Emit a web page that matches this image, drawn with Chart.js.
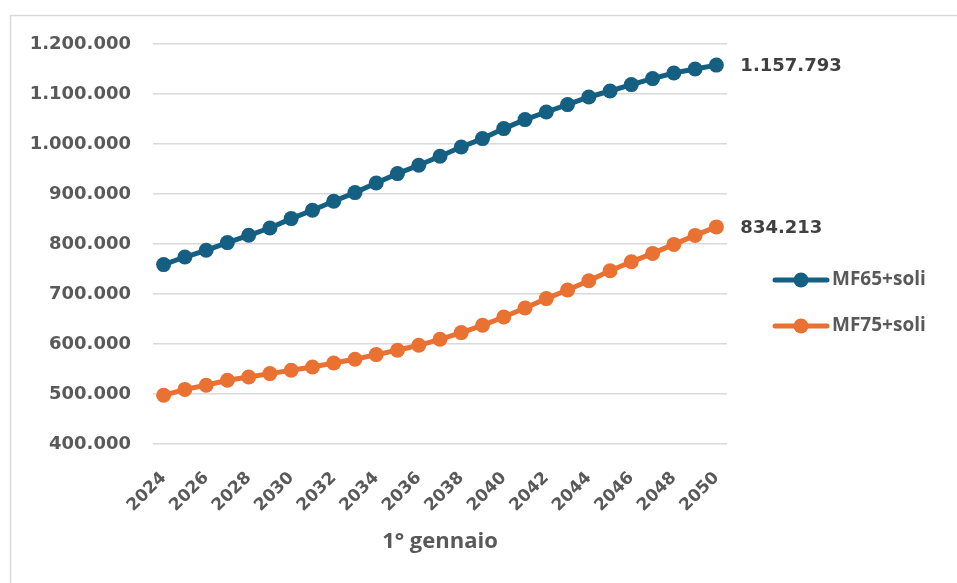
<!DOCTYPE html>
<html>
<head>
<meta charset="utf-8">
<script src="https://cdn.jsdelivr.net/npm/chart.js@4/dist/chart.umd.min.js"></script>
<style>
    body { margin: 0; background: #fff; }
    canvas { display: block; }
</style>
</head>
<body>
<canvas id="chart" width="957" height="583"></canvas>
<script>
const years = ['2024', '2025', '2026', '2027', '2028', '2029', '2030', '2031', '2032', '2033', '2034', '2035', '2036', '2037', '2038', '2039', '2040', '2041', '2042', '2043', '2044', '2045', '2046', '2047', '2048', '2049', '2050'];
const mf65 = [758800, 774000, 787400, 802800, 817400, 832000, 850800, 867400, 885400, 902800, 922000, 940800, 957400, 975400, 994000, 1010800, 1030800, 1048800, 1064000, 1078800, 1094000, 1106000, 1118800, 1130800, 1142000, 1150000, 1157793];
const mf75 = [497400, 509200, 517400, 527400, 534000, 540800, 547400, 554000, 562000, 569400, 578800, 587400, 597400, 609400, 622800, 637400, 654000, 672000, 690800, 708000, 726400, 746400, 764400, 781200, 799200, 817200, 834213];
const seriesNames = ['MF65+soli', 'MF75+soli'];
const seriesColors = ['#156082', '#E97132'];
const xTitle = '1° gennaio';

// digits: wide tabular font, words: Open Sans
const numFont = '"DejaVu Sans", sans-serif';
const textFont = '"Open Sans", sans-serif';

function fmt(v) {
    return String(Math.round(v)).replace(/\B(?=(\d{3})+(?!\d))/g, '.');
}

// frame, last-point labels and legend drawn by hand
const extras = {
    id: 'extras',
    beforeDraw(chart) {
        const ctx = chart.ctx;
        ctx.save();
        ctx.strokeStyle = '#d9d9d9';
        ctx.lineWidth = 1.5;
        ctx.strokeRect(10.5, 15.5, 1200, 1200);
        ctx.restore();
    },
    afterDatasetsDraw(chart) {
        const ctx = chart.ctx;
        ctx.save();
        ctx.font = `bold 18px ${numFont}`;
        ctx.fillStyle = '#404040';
        ctx.textBaseline = 'middle';
        ctx.textAlign = 'left';
        chart.data.datasets.forEach((ds, i) => {
            const meta = chart.getDatasetMeta(i);
            const last = meta.data[meta.data.length - 1];
            ctx.fillText(fmt(ds.data[ds.data.length - 1]), last.x + 24, last.y + 1);
        });

        const legendY = [280, 326];
        ctx.font = `bold 19px ${textFont}`;
        chart.data.datasets.forEach((ds, i) => {
            const y = legendY[i];
            ctx.strokeStyle = ds.borderColor;
            ctx.lineWidth = 5;
            ctx.lineCap = 'round';
            ctx.beginPath();
            ctx.moveTo(775, y);
            ctx.lineTo(827, y);
            ctx.stroke();
            ctx.fillStyle = ds.borderColor;
            ctx.beginPath();
            ctx.arc(801, y, 7.5, 0, Math.PI * 2);
            ctx.fill();
            ctx.fillStyle = '#595959';
            ctx.fillText(ds.label, 832, y);
        });
        ctx.restore();
    }
};

new Chart(document.getElementById('chart'), {
    type: 'line',
    data: {
        labels: years,
        datasets: [
            {
                label: seriesNames[0],
                data: mf65,
                borderColor: seriesColors[0],
                backgroundColor: seriesColors[0],
                borderWidth: 5,
                pointRadius: 7.5,
                pointHoverRadius: 7.5,
                pointBorderWidth: 0,
                tension: 0
            },
            {
                label: seriesNames[1],
                data: mf75,
                borderColor: seriesColors[1],
                backgroundColor: seriesColors[1],
                borderWidth: 5,
                pointRadius: 7.5,
                pointHoverRadius: 7.5,
                pointBorderWidth: 0,
                tension: 0
            }
        ]
    },
    options: {
        responsive: false,
        animation: false,
        devicePixelRatio: 1,
        layout: { padding: { left: 10, top: 44, right: 230, bottom: 10 } },
        plugins: {
            legend: { display: false },
            tooltip: { enabled: false }
        },
        scales: {
            x: {
                offset: true,
                grid: { display: false, drawTicks: false },
                border: { display: false },
                afterFit: (scale) => { scale.height = 129; },
                ticks: {
                    autoSkip: false,
                    maxRotation: 45,
                    minRotation: 45,
                    padding: 24,
                    color: '#595959',
                    font: { family: numFont, size: 17, weight: 'bold' },
                    callback: (value, index) => index % 2 === 0 ? years[index] : ''
                },
                title: {
                    display: true,
                    text: xTitle,
                    color: '#595959',
                    font: { family: textFont, size: 22, weight: 'bold' },
                    padding: { top: 0, bottom: 18 }
                }
            },
            y: {
                min: 400000,
                max: 1200000,
                afterFit: (scale) => { scale.width = 143; },
                grid: { color: '#d9d9d9', lineWidth: 1.5, drawTicks: false },
                border: { display: false },
                ticks: {
                    stepSize: 100000,
                    padding: 22,
                    color: '#595959',
                    font: { family: numFont, size: 18, weight: 'bold' },
                    callback: (value) => fmt(value)
                }
            }
        }
    },
    plugins: [extras]
});
</script>
</body>
</html>
